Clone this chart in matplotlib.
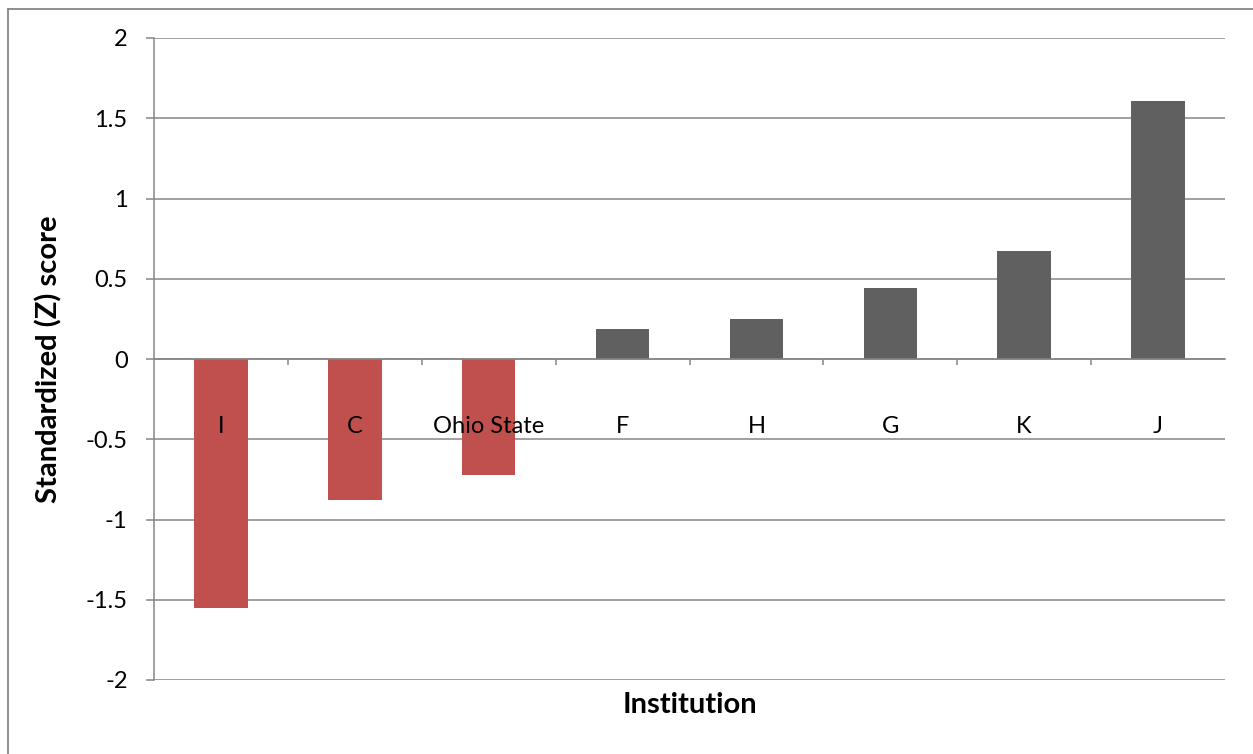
import matplotlib
matplotlib.use("Agg")
import matplotlib.pyplot as plt
from matplotlib.lines import Line2D

categories = ["I", "C", "Ohio State", "F", "H", "G", "K", "J"]
values = [-1.55, -0.88, -0.72, 0.19, 0.25, 0.44, 0.67, 1.61]
bar_colors = ["#C0504D", "#C0504D", "#C0504D", "#606060", "#606060", "#606060", "#606060", "#606060"]
yticks = [-2, -1.5, -1, -0.5, 0, 0.5, 1, 1.5, 2]
ytick_labels = ["-2", "-1.5", "-1", "-0.5", "0", "0.5", "1", "1.5", "2"]

plt.rcParams['font.family'] = ['Lato', 'DejaVu Sans']
W, H = 1253, 754
fig = plt.figure(figsize=(W / 100, H / 100), dpi=100)
ax = fig.add_axes([154 / W, 1 - 680 / H, (1225 - 154) / W, (680 - 38) / H])

grid_c = "#868686"
x = list(range(len(categories)))
ax.bar(x, values, width=0.4, color=bar_colors, zorder=3)
ax.set_xlim(-0.5, len(categories) - 0.5)
ax.set_ylim(-2, 2)

ax.set_yticks(yticks)
ax.set_yticklabels(ytick_labels, fontsize=17)
ax.yaxis.grid(True, color=grid_c, linewidth=1.1, zorder=0)
ax.tick_params(axis='y', length=6, width=1.1, color=grid_c, pad=13)

for s in ['top', 'right']:
    ax.spines[s].set_visible(False)
ax.spines['left'].set_color(grid_c)
ax.spines['left'].set_linewidth(1.1)
ax.spines['bottom'].set_position(('data', 0))
ax.spines['bottom'].set_color(grid_c)
ax.spines['bottom'].set_linewidth(1.1)

ax.set_xticks(x)
ax.set_xticklabels(categories, fontsize=17)
ax.set_xticks([i + 0.5 for i in x[:-1]], minor=True)
ax.tick_params(axis='x', which='major', length=0, pad=41)
ax.tick_params(axis='x', which='minor', length=4, width=1.1, color=grid_c, direction='out')
ax.xaxis.set_zorder(5)
ax.spines['bottom'].set_zorder(4)

ax.set_ylabel("Standardized (Z) score", fontsize=21, fontweight='bold')
ax.yaxis.set_label_coords(-(154 - 62) / (1225 - 154), 0.5)
fig.text(((154 + 1225) / 2) / W, 1 - 705 / H, "Institution", fontsize=21,
         fontweight='bold', ha='center', va='center')

# outer chart border
fig.add_artist(Line2D([7.5 / W, 7.5 / W], [0, 1 - 8.5 / H], transform=fig.transFigure,
                      color=grid_c, linewidth=1.3))
fig.add_artist(Line2D([7.5 / W, 1], [1 - 8.5 / H, 1 - 8.5 / H], transform=fig.transFigure,
                      color=grid_c, linewidth=1.3))

fig.savefig("out.png", dpi=100)
